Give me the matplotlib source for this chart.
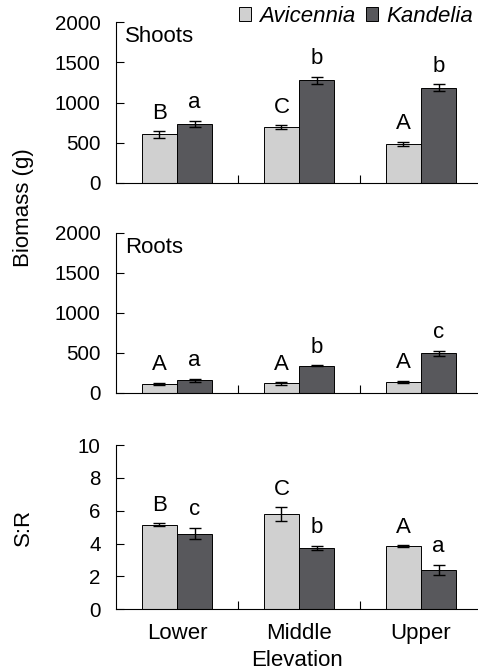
import numpy as np
import matplotlib.pyplot as plt
from matplotlib.patches import Patch

plt.rcParams['font.family'] = ['Liberation Sans', 'DejaVu Sans']
plt.rcParams['font.size'] = 16

sites = ['Lower', 'Middle', 'Upper']
species = ['Avicennia', 'Kandelia']

shoot_avi = [605, 696, 488]
shoot_avi_err = [40, 25, 25]
shoot_kan = [737, 1276, 1184]
shoot_kan_err = [40, 45, 45]
shoot_avi_lab = ['B', 'C', 'A']
shoot_kan_lab = ['a', 'b', 'b']

root_avi = [112, 115, 134]
root_avi_err = [15, 15, 15]
root_kan = [155, 338, 492]
root_kan_err = [20, 5, 30]
root_avi_lab = ['A', 'A', 'A']
root_kan_lab = ['a', 'b', 'c']

sr_avi = [5.15, 5.8, 3.85]
sr_avi_err = [0.1, 0.4, 0.05]
sr_kan = [4.6, 3.73, 2.41]
sr_kan_err = [0.35, 0.15, 0.3]
sr_avi_lab = ['B', 'C', 'A']
sr_kan_lab = ['c', 'b', 'a']

c_avi = '#d0d0d0'
c_kan = '#58585c'

fig = plt.figure(figsize=(4.78, 6.71), dpi=100)
left = 116/478
w = 1 - left
rects = [(0.7273, 0.2395), (0.4148, 0.2384), (0.0920, 0.2448)]

panels = [
    (shoot_avi, shoot_avi_err, shoot_kan, shoot_kan_err, shoot_avi_lab, shoot_kan_lab, 2000, 500, 'Shoots'),
    (root_avi, root_avi_err, root_kan, root_kan_err, root_avi_lab, root_kan_lab, 2000, 500, 'Roots'),
    (sr_avi, sr_avi_err, sr_kan, sr_kan_err, sr_avi_lab, sr_kan_lab, 10, 2, None),
]

x = np.arange(len(sites))
bw = 0.288
axes = []
for (b, h), (a, ae, k, ke, al, kl, ymax, step, title) in zip(rects, panels):
    ax = fig.add_axes([left, b, w, h])
    axes.append(ax)
    ax.bar(x - bw/2, a, bw, color=c_avi, edgecolor='black', linewidth=0.7)
    ax.bar(x + bw/2, k, bw, color=c_kan, edgecolor='black', linewidth=0.7)
    ax.errorbar(x - bw/2, a, yerr=ae, fmt='none', ecolor='black', elinewidth=1, capsize=4.5, capthick=1)
    ax.errorbar(x + bw/2, k, yerr=ke, fmt='none', ecolor='black', elinewidth=1, capsize=4.5, capthick=1)
    for i in range(len(sites)):
        ax.annotate(al[i], (x[i] - bw/2, a[i] + ae[i]), xytext=(0, 9), textcoords='offset points',
                    ha='center', va='baseline')
        ax.annotate(kl[i], (x[i] + bw/2, k[i] + ke[i]), xytext=(0, 9), textcoords='offset points',
                    ha='center', va='baseline')
    ax.set_xlim(-0.5, -0.5 + 362/122)
    ax.set_ylim(0, ymax)
    ax.set_yticks(np.arange(0, ymax + step/2, step))
    ax.spines['top'].set_visible(False)
    ax.spines['right'].set_visible(False)
    ax.spines['left'].set_linewidth(0.8)
    ax.spines['bottom'].set_linewidth(0.8)
    ax.tick_params(axis='y', direction='in', length=6, width=0.8, pad=11, labelsize=14.8)
    ax.set_xticks([0.5, 1.5], minor=True)
    ax.tick_params(axis='x', which='minor', direction='in', length=6, width=0.8)
    ax.set_xticks(x)
    ax.tick_params(axis='x', which='major', length=0, pad=10)
    if title:
        ax.text(0.025, 0.975, title, transform=ax.transAxes, va='top', ha='left')
    ax.set_xticklabels([])

axes[2].set_xticklabels(sites)
axes[2].set_xlabel('Elevation', labelpad=4)
fig.text(0.05, (0.4148 + 0.9668)/2, 'Biomass (g)', rotation=90, ha='center', va='center')
fig.text(0.05, 0.0920 + 0.2448/2, 'S:R', rotation=90, ha='center', va='center')

handles = [Patch(facecolor=c_avi, edgecolor='black', linewidth=0.7),
           Patch(facecolor=c_kan, edgecolor='black', linewidth=0.7)]
fig.legend(handles, species, loc='upper right', bbox_to_anchor=(473/478, 1 - 6/671), ncol=2, frameon=False,
           borderpad=0, borderaxespad=0,
           handlelength=0.55, handleheight=0.55, handletextpad=0.35, columnspacing=0.5,
           prop={'style': 'italic', 'size': 16})

fig.savefig('out.png', dpi=100)
